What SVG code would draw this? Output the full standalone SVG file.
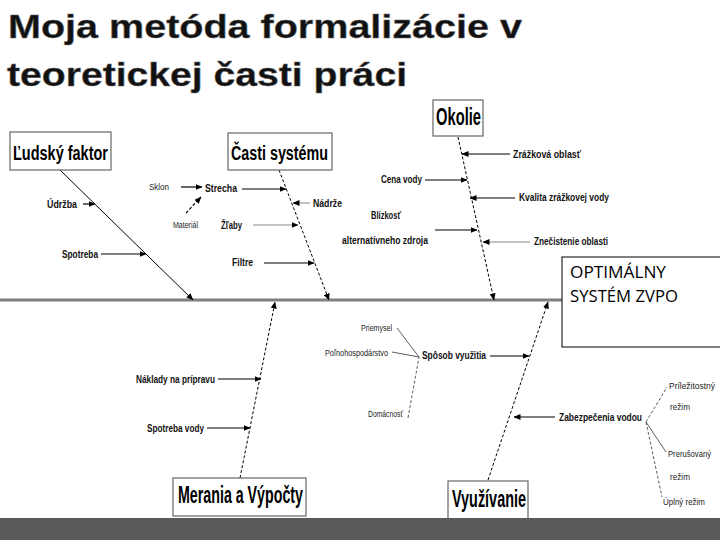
<svg xmlns="http://www.w3.org/2000/svg" width="720" height="540" viewBox="0 0 720 540">
<defs>
<marker id="ah" markerUnits="userSpaceOnUse" markerWidth="7" markerHeight="6" refX="6.5" refY="3" orient="auto">
<path d="M0,0 L7,3 L0,6 z" fill="#000"/>
</marker>
<style>
.title{font-family:"Liberation Sans",Arial,sans-serif;font-weight:bold;font-size:33px;fill:#111;stroke:#666;stroke-width:0.5}
.cat{font-family:"Liberation Sans Narrow","Liberation Sans",Arial,sans-serif;font-weight:bold;fill:#000}
.box{fill:#fff;stroke:#666;stroke-width:1.2}
.lbl{font-family:"Liberation Sans Narrow","Liberation Sans",Arial,sans-serif;font-size:11.5px;font-weight:bold;fill:#111}
.sm{font-family:"Liberation Sans Narrow","Liberation Sans",Arial,sans-serif;font-size:9.5px;fill:#222}
.bone{stroke:#000;stroke-width:1;fill:none}
.dash{stroke-dasharray:3,2}
.arr{stroke:#000;stroke-width:1.2;fill:none;marker-end:url(#ah)}
.arrg{stroke:#888;stroke-width:1;fill:none;marker-end:url(#ah)}
.br{stroke:#333;stroke-width:0.8;fill:none}
.res{font-family:"Open Sans","Noto Sans",sans-serif;font-size:16px;fill:#000}
</style>
</defs>
<rect x="0" y="0" width="720" height="540" fill="#fff"/>
<g id="title">
<text class="title" x="8" y="38" textLength="514" lengthAdjust="spacingAndGlyphs">Moja metóda formalizácie v</text>
<text class="title" x="7" y="86" textLength="400" lengthAdjust="spacingAndGlyphs">teoretickej časti práci</text>
</g>
<g id="connectors">
<line x1="0" y1="300" x2="562" y2="300" stroke="#808080" stroke-width="3"/>
<line class="bone" x1="60" y1="170" x2="193" y2="300" marker-end="url(#ah)"/>
<line class="bone dash" x1="279" y1="170" x2="329" y2="300" marker-end="url(#ah)"/>
<line class="bone dash" x1="458" y1="137" x2="494" y2="300" marker-end="url(#ah)"/>
<line class="bone dash" x1="240" y1="478" x2="275" y2="302" marker-end="url(#ah)"/>
<line class="bone dash" x1="488" y1="480" x2="548" y2="302" marker-end="url(#ah)"/>
<line class="arr" x1="83" y1="204" x2="95" y2="204"/>
<line class="arr" x1="101" y1="254" x2="146" y2="254"/>
<line class="arr" x1="181" y1="187" x2="202" y2="187" stroke-width="1"/>
<line class="arr dash" x1="186" y1="213" x2="201" y2="197" stroke-width="1"/>
<line class="arr" x1="242" y1="189" x2="286" y2="189"/>
<line class="arrg" x1="310" y1="203" x2="293" y2="203"/>
<line class="arrg" x1="253" y1="225" x2="298" y2="225"/>
<line class="arr" x1="264" y1="263" x2="314" y2="263"/>
<line class="arr" x1="510" y1="154" x2="462" y2="154"/>
<line class="arr" x1="425" y1="180" x2="467" y2="180"/>
<line class="arr" x1="515" y1="198" x2="470" y2="198"/>
<line class="arr" x1="435" y1="230" x2="477" y2="230"/>
<line class="arrg" x1="530" y1="242" x2="483" y2="242" stroke="#ddd"/>
<line class="arr" x1="218" y1="379" x2="261" y2="379"/>
<line class="arr" x1="207" y1="428" x2="250" y2="428"/>
<line class="arr" x1="490" y1="356" x2="529" y2="356"/>
<line class="arr" x1="555" y1="417" x2="514" y2="417"/>
<line class="br" x1="397" y1="328" x2="419" y2="357"/>
<line class="br" x1="392" y1="352" x2="419" y2="357"/>
<line class="br dash" x1="408" y1="418" x2="419" y2="357"/>
<line class="br dash" x1="646" y1="422" x2="667" y2="387"/>
<line class="br" x1="646" y1="422" x2="666" y2="452"/>
<line class="br dash" x1="646" y1="422" x2="662" y2="497"/>
</g>
<g id="ludsky-faktor">
<rect class="box" x="10" y="132" width="101" height="38"/>
<text class="cat" x="13" y="160" font-size="20" textLength="95" lengthAdjust="spacingAndGlyphs">Ľudský faktor</text>
</g>
<g id="casti-systemu">
<rect class="box" x="228" y="133" width="104" height="37"/>
<text class="cat" x="231" y="160" font-size="20" textLength="97" lengthAdjust="spacingAndGlyphs">Časti systému</text>
</g>
<g id="okolie">
<rect class="box" x="433" y="100" width="50" height="36" stroke="#999"/>
<text class="cat" x="436" y="125" font-size="23" textLength="45" lengthAdjust="spacingAndGlyphs">Okolie</text>
</g>
<g id="merania">
<rect class="box" x="173" y="478" width="133" height="38"/>
<text class="cat" x="178" y="503" font-size="24" textLength="125" lengthAdjust="spacingAndGlyphs">Merania a Výpočty</text>
</g>
<g id="vyuzivanie">
<rect class="box" x="448" y="481" width="80" height="40"/>
<text class="cat" x="452" y="507" font-size="23" textLength="74" lengthAdjust="spacingAndGlyphs">Využívanie</text>
</g>
<g id="vysledok">
<rect x="562" y="257" width="170" height="90" fill="#fff" stroke="#000" stroke-width="1"/>
<text class="res" x="570" y="278" textLength="96" lengthAdjust="spacingAndGlyphs">OPTIMÁLNY</text>
<text class="res" x="570" y="302" textLength="108" lengthAdjust="spacingAndGlyphs">SYSTÉM ZVPO</text>
</g>
<g id="labels">
<text class="lbl" x="47" y="208" textLength="30" lengthAdjust="spacingAndGlyphs">Údržba</text>
<text class="lbl" x="62" y="258" textLength="36" lengthAdjust="spacingAndGlyphs">Spotreba</text>
<text class="sm" x="149" y="190" textLength="20" lengthAdjust="spacingAndGlyphs">Sklon</text>
<text class="lbl" x="205" y="192" textLength="32" lengthAdjust="spacingAndGlyphs">Strecha</text>
<text class="sm" x="173" y="228" textLength="25" lengthAdjust="spacingAndGlyphs">Materiál</text>
<text class="lbl" x="221" y="229" textLength="21" lengthAdjust="spacingAndGlyphs">Žľaby</text>
<text class="lbl" x="313" y="207" textLength="29" lengthAdjust="spacingAndGlyphs">Nádrže</text>
<text class="lbl" x="232" y="266" textLength="21" lengthAdjust="spacingAndGlyphs">Filtre</text>
<text class="lbl" x="381" y="183" textLength="41" lengthAdjust="spacingAndGlyphs">Cena vody</text>
<text class="lbl" x="513" y="158" textLength="68" lengthAdjust="spacingAndGlyphs">Zrážková oblasť</text>
<text class="lbl" x="519" y="201" textLength="90" lengthAdjust="spacingAndGlyphs">Kvalita zrážkovej vody</text>
<text class="lbl" x="371" y="219" textLength="30" lengthAdjust="spacingAndGlyphs">Blízkosť</text>
<text class="lbl" x="342" y="244" textLength="86" lengthAdjust="spacingAndGlyphs">alternatívneho zdroja</text>
<text class="lbl" x="534" y="245" textLength="74" lengthAdjust="spacingAndGlyphs">Znečistenie oblasti</text>
<text class="lbl" x="136" y="383" textLength="79" lengthAdjust="spacingAndGlyphs">Náklady na prípravu</text>
<text class="lbl" x="147" y="432" textLength="57" lengthAdjust="spacingAndGlyphs">Spotreba vody</text>
<text class="lbl" x="422" y="359" textLength="64" lengthAdjust="spacingAndGlyphs">Spôsob využitia</text>
<text class="lbl" x="559" y="421" textLength="83" lengthAdjust="spacingAndGlyphs">Zabezpečenia vodou</text>
<text class="sm" x="361" y="331" textLength="31" lengthAdjust="spacingAndGlyphs">Priemysel</text>
<text class="sm" x="325" y="356" textLength="63" lengthAdjust="spacingAndGlyphs">Poľnohospodárstvo</text>
<text class="sm" x="368" y="417" textLength="35" lengthAdjust="spacingAndGlyphs">Domácnosť</text>
<text class="sm" x="669" y="389" textLength="46" lengthAdjust="spacingAndGlyphs">Príležitostný</text>
<text class="sm" x="670" y="410" textLength="20" lengthAdjust="spacingAndGlyphs">režim</text>
<text class="sm" x="668" y="457" textLength="43" lengthAdjust="spacingAndGlyphs">Prerušovaný</text>
<text class="sm" x="670" y="480" textLength="20" lengthAdjust="spacingAndGlyphs">režim</text>
<text class="sm" x="663" y="505" textLength="42" lengthAdjust="spacingAndGlyphs">Úplný režim</text>
</g>
<rect id="band" x="0" y="518" width="720" height="22" fill="#595959"/>
</svg>
